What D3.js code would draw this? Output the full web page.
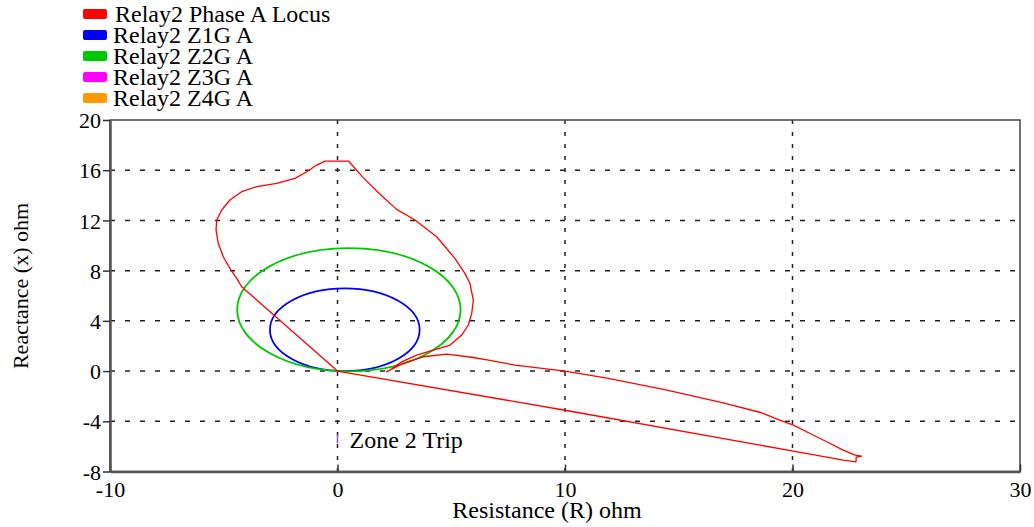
<!DOCTYPE html>
<html>
<head>
<meta charset="utf-8">
<script src="https://cdn.jsdelivr.net/npm/d3@7"></script>
<style>
  body { margin: 0; background: #fff; }
  svg { display: block; }
  svg text { font-family: 'Liberation Serif', 'DejaVu Serif', serif; }
</style>
</head>
<body>
<svg width="1034" height="527"></svg>
<script>
// legend
var seriesNames = ["Relay2 Phase A Locus", "Relay2 Z1G A", "Relay2 Z2G A", "Relay2 Z3G A", "Relay2 Z4G A"];
var seriesColors = ["#ff0000", "#0000ff", "#00c800", "#ff00ff", "#ff9900"];

// axis ticks
var xTicks = [-10, 0, 10, 20, 30];
var yTicks = [-8, -4, 0, 4, 8, 12, 16, 20];
var xGrid = [0, 10, 20];
var yGrid = [-4, 0, 4, 8, 12, 16];

// impedance locus (R, X) in ohm
var locusR = [0, -2.1, -4.21, -4.43, -4.73, -5.02, -5.24, -5.34, -5.31, -5.09, -4.73, -4.21, -3.55, -2.67, -1.87, -1.35, -0.91, -0.55,
  0.48, 1.13, 1.87, 2.6, 3.41, 4.07, 4.36, 4.73, 5.16, 5.6, 5.82, 5.97, 5.9, 5.75, 5.46, 4.95, 4.21, 3.48, 2.82, 2.31,
  2.16, 2.89, 3.77, 4.8, 5.9, 6.7, 7.81, 10, 11.85, 14.38, 16.91, 18.6, 19.44, 20.04, 20.77, 21.5, 22.23, 22.75, 23.04, 22.8, 22.79,
  22.23, 20.04, 18.57, 10, 0];
var locusX = [0, 3.35, 6.72, 7.39, 8.18, 9.11, 10.17, 11.24, 12.03, 12.83, 13.63, 14.29, 14.69, 14.96, 15.35, 15.88, 16.41, 16.73,
  16.73, 15.41, 14.08, 12.88, 12.03, 11.1, 10.7, 9.9, 8.98, 7.78, 6.99, 5.66, 4.6, 3.67, 2.87, 2.07, 1.67, 1.27, 0.74, 0.08,
  -0.05, 0.61, 1.14, 1.35, 1.1, 0.85, 0.47, 0, -0.57, -1.48, -2.52, -3.3, -3.9, -4.3, -4.97, -5.63, -6.3, -6.69, -6.77, -6.85, -7.23,
  -7.09, -6.37, -5.9, -3.12, 0];

// mho zone circles: Z1G, Z2G
var zoneCenterR = [0.32, 0.5];
var zoneCenterX = [3.29, 4.89];
var zoneRadius = [3.29, 4.91];
var zoneColors = ["#0000ff", "#00c800"];

// trip marker
var tripR = 0, tripX = -5.4, tripLabel = "Zone 2 Trip";

var serif = "'Liberation Serif', 'DejaVu Serif', serif";
var svg = d3.select("svg").attr("font-family", serif);
var plotLeft = 110, plotRight = 1020, plotTop = 120, plotBottom = 471.5;

var x = d3.scaleLinear().domain([-10, 30]).range([plotLeft, plotRight]);
var y = d3.scaleLinear().domain([-8, 20]).range([plotBottom, plotTop]);

// legend
var leg = svg.append("g").attr("class", "legend");
seriesNames.forEach(function(n, i) {
  var yy = 14 + i * 21;
  leg.append("rect")
    .attr("x", 83).attr("y", yy - 5).attr("width", 24).attr("height", 10)
    .attr("rx", 2).attr("fill", seriesColors[i]);
  leg.append("text")
    .attr("x", i == 0 ? 115 : 113).attr("y", yy + 8)
    .attr("font-family", serif)
    .attr("font-size", 24).attr("fill", "#000")
    .text(n);
});

// grid
svg.append("g").selectAll("line")
  .data(yGrid).enter().append("line")
    .attr("x1", plotLeft).attr("x2", plotRight)
    .attr("y1", function(d) { return y(d); })
    .attr("y2", function(d) { return y(d); })
    .attr("stroke", "#222").attr("stroke-width", 1.5)
    .attr("stroke-dasharray", "5,10");

svg.append("g").selectAll("line")
  .data(xGrid).enter().append("line")
    .attr("y1", plotTop).attr("y2", plotBottom)
    .attr("x1", function(d) { return x(d); })
    .attr("x2", function(d) { return x(d); })
    .attr("stroke", "#222").attr("stroke-width", 1.5)
    .attr("stroke-dasharray", "4,8");

// frame
svg.append("rect")
  .attr("x", plotLeft).attr("y", plotTop)
  .attr("width", plotRight - plotLeft).attr("height", plotBottom - plotTop)
  .attr("fill", "none").attr("stroke", "#444").attr("stroke-width", 1.5);

// axes
var fmt = function(d) { return String(d); };
var xAxis = svg.append("g")
  .attr("transform", "translate(0," + plotBottom + ")")
  .call(d3.axisBottom(x).tickValues(xTicks).tickFormat(fmt).tickSizeInner(-7).tickSizeOuter(0).tickPadding(12));
var yAxis = svg.append("g")
  .attr("transform", "translate(" + plotLeft + ",0)")
  .call(d3.axisLeft(y).tickValues(yTicks).tickFormat(fmt).tickSizeInner(7).tickSizeOuter(0).tickPadding(2));

[xAxis, yAxis].forEach(function(a) {
  a.attr("font-family", serif).attr("font-size", 22);
  a.select(".domain").attr("stroke", "#555").attr("stroke-width", 2.5);
  a.selectAll(".tick line").attr("stroke", "#333").attr("stroke-width", 1.5);
  a.selectAll(".tick text")
    .attr("font-family", serif)
    .attr("font-size", 22).attr("fill", "#000");
});
yAxis.selectAll(".tick text").attr("dy", "0.35em");
xAxis.selectAll(".tick text").attr("dy", "0.6em");

// axis titles
svg.append("text")
  .attr("x", 547).attr("y", 518)
  .attr("text-anchor", "middle").attr("font-size", 24)
  .attr("font-family", serif)
  .text("Resistance (R) ohm");
svg.append("text")
  .attr("transform", "translate(28,286) rotate(-90)")
  .attr("text-anchor", "middle").attr("font-size", 22)
  .attr("font-family", serif)
  .text("Reactance (x) ohm");

// zone circles
svg.append("g").selectAll("ellipse")
  .data(zoneRadius).enter().append("ellipse")
    .attr("cx", function(d, i) { return x(zoneCenterR[i]); })
    .attr("cy", function(d, i) { return y(zoneCenterX[i]); })
    .attr("rx", function(d) { return x(d) - x(0); })
    .attr("ry", function(d) { return y(0) - y(d); })
    .attr("fill", "none")
    .attr("stroke", function(d, i) { return zoneColors[i]; })
    .attr("stroke-width", 1.8);

// locus
var line = d3.line()
  .x(function(d) { return x(d[0]); })
  .y(function(d) { return y(d[1]); });

svg.append("path")
  .datum(d3.zip(locusR, locusX))
  .attr("d", line)
  .attr("fill", "none")
  .attr("stroke", "#ff0000")
  .attr("stroke-width", 1.3)
  .attr("stroke-linejoin", "round");

// trip marker
svg.append("line")
  .attr("x1", x(tripR)).attr("x2", x(tripR))
  .attr("y1", y(tripX) - 4).attr("y2", y(tripX) + 4)
  .attr("stroke", "#9050c0").attr("stroke-width", 1.5);
svg.append("text")
  .attr("x", x(tripR) + 12).attr("y", y(tripX) + 9)
  .attr("font-family", serif)
  .attr("font-size", 24)
  .text(tripLabel);
</script>
</body>
</html>
